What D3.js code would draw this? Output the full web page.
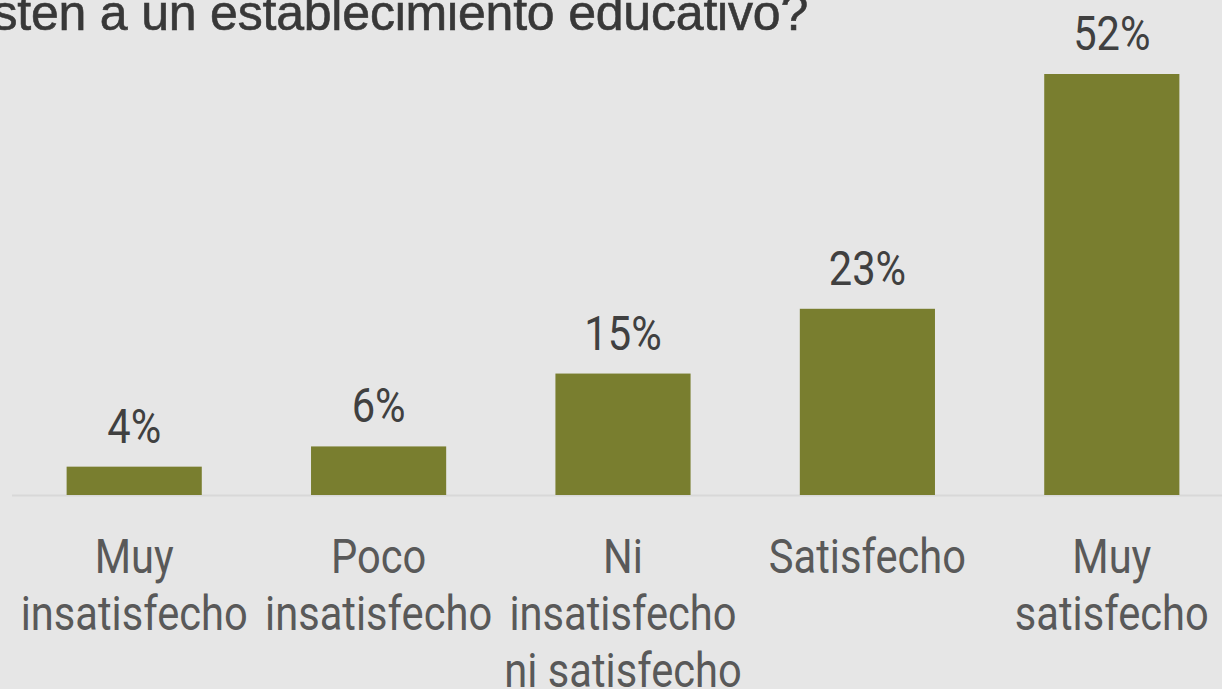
<!DOCTYPE html>
<html>
<head>
<meta charset="utf-8">
<script src="https://cdn.jsdelivr.net/npm/d3@7"></script>
<style>
  html, body { margin: 0; padding: 0; background: #e6e6e6; overflow: hidden; }
  text { font-family: Roboto, "Noto Sans", sans-serif; }
</style>
</head>
<body>
<svg class="target"></svg>
<script>
const categories = [
    ["Muy", "insatisfecho"],
    ["Poco", "insatisfecho"],
    ["Ni", "insatisfecho", "ni satisfecho"],
    ["Satisfecho"],
    ["Muy", "satisfecho"]
];
const values = [3.5, 6, 15, 23, 52];
const titleText = "asisten a un establecimiento educativo?";

document.addEventListener("DOMContentLoaded", function() {
    drawChart();
});

function drawChart() {
    const width = 1222;
    const height = 689;
    const svg = d3.select(".target")
        .attr("width", width)
        .attr("height", height);

    svg.append("rect")
        .attr("width", width)
        .attr("height", height)
        .attr("fill", "#e6e6e6");

    const x = d3.scaleBand()
        .domain(d3.range(values.length))
        .range([12, 1234])
        .paddingInner(0.447)
        .paddingOuter(0.2235);

    const y = d3.scaleLinear()
        .domain([0, 52])
        .range([495, 74]);

    // title (only its last line shows, cut at the top)
    svg.append("text")
        .attr("x", 808)
        .attr("y", 30)
        .attr("text-anchor", "end")
        .attr("fill", "#383838")
        .attr("stroke", "#383838")
        .attr("stroke-width", 0.6)
        .style("font-family", "'Liberation Sans', Arial, sans-serif")
        .style("font-size", "50px")
        .style("letter-spacing", "-0.2px")
        .text(titleText);

    // baseline
    svg.append("line")
        .attr("x1", 12)
        .attr("x2", width)
        .attr("y1", y(0) + 0.5)
        .attr("y2", y(0) + 0.5)
        .attr("stroke", "#d8d8d8")
        .attr("stroke-width", 2);

    svg.selectAll("rect.bar")
        .data(values)
        .enter()
        .append("rect")
        .attr("class", "bar")
        .attr("x", (d, i) => x(i))
        .attr("y", d => y(d))
        .attr("width", x.bandwidth())
        .attr("height", d => y(0) - y(d))
        .attr("fill", "#797e2f");

    // value labels
    svg.selectAll("text.val")
        .data(values)
        .enter()
        .append("text")
        .attr("class", "val")
        .attr("text-anchor", "middle")
        .attr("transform", (d, i) => "translate(" + (x(i) + x.bandwidth() / 2) + "," + (y(d) - 24) + ") scale(0.85,1)")
        .attr("fill", "#404040")
        .style("font-size", "49px")
        .text(d => Math.round(d) + "%");

    // category labels
    const cat = svg.selectAll("text.cat")
        .data(categories)
        .enter()
        .append("text")
        .attr("class", "cat")
        .attr("text-anchor", "middle")
        .attr("transform", (d, i) => "translate(" + (x(i) + x.bandwidth() / 2) + ",573) scale(0.85,1)")
        .attr("fill", "#595959")
        .style("font-size", "49px");

    cat.selectAll("tspan")
        .data(d => d)
        .enter()
        .append("tspan")
        .attr("x", 0)
        .attr("y", (d, i) => i * 57)
        .text(d => d);
}
</script>
</body>
</html>
